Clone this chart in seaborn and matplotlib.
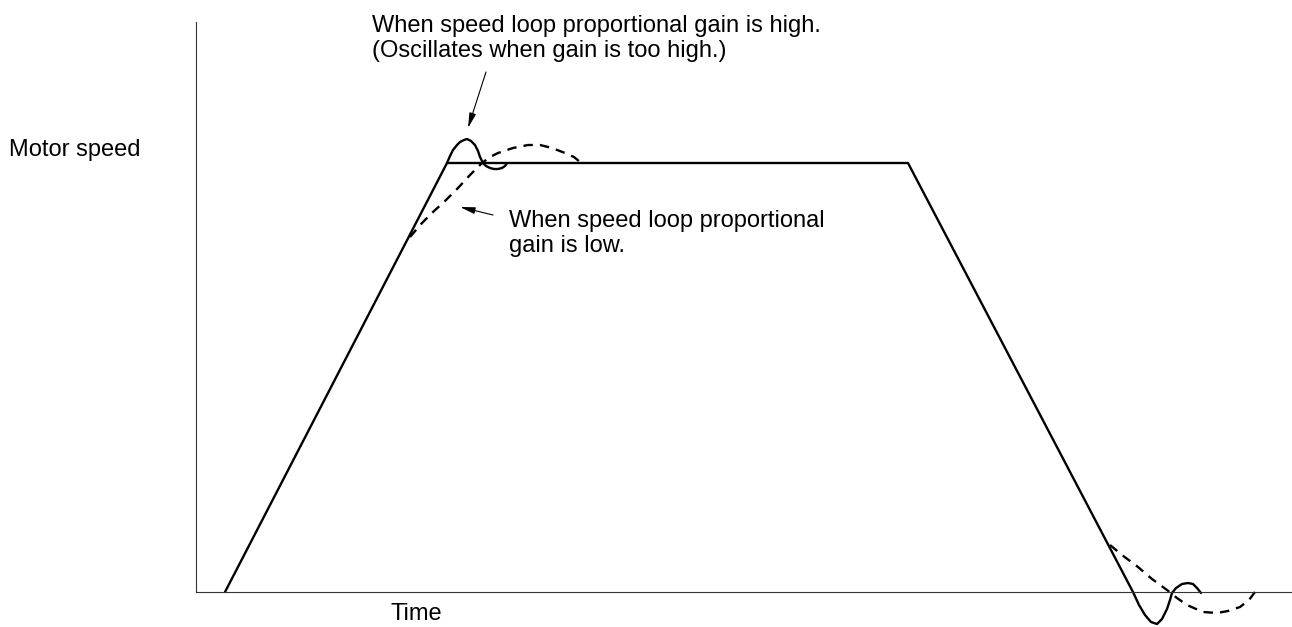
import matplotlib
matplotlib.use("Agg")
import matplotlib.pyplot as plt
import seaborn as sns

# data (time / speed in arbitrary units, origin at the axes corner)
# high gain: trapezoid run + undershoot at the end
high_t = [29, 251, 712, 937, 943, 949, 955, 961, 966, 971, 974, 976, 980, 986, 992, 997, 1001, 1005]
high_v = [0, 429, 429, 0, -13, -23, -30, -32, -27, -17, -8, -1, 4, 8, 9, 8, 4, -1]

# high gain: overshoot at the top of the ramp
over_t = [251, 254, 257, 261, 264, 268, 271, 275, 279, 282, 284, 287, 290, 294, 298, 302, 306, 309, 311]
over_v = [429, 436, 442, 447, 450, 452, 453, 451, 447, 441, 435, 429, 426, 424, 423, 423, 424, 426, 429]

# low gain: slow rise at the top
low_top_t = [214, 226, 237, 249, 262, 274, 286, 294, 302, 317, 332, 344, 356, 369, 378, 384]
low_top_v = [355, 369, 380, 391, 404, 417, 429, 435, 439, 444, 447, 447, 444, 439, 435, 430]

# low gain: slow settle at the end
low_end_t = [914, 926, 942, 956, 971, 981, 991, 1007, 1021, 1032, 1044, 1053, 1059]
low_end_v = [47, 37, 25, 13, 2, -6, -13, -20, -21, -19, -15, -8, 0]

sns.set_style("white")
plt.rcParams['font.family'] = ['Liberation Sans', 'DejaVu Sans']
plt.rcParams['text.color'] = 'black'

fig = plt.figure(figsize=(12.92, 6.27), dpi=100)
ax = fig.add_axes([196/1292, 35/627, 1096/1292, 570/627])

lw = 1.7
sns.lineplot(x=high_t, y=high_v, sort=False, estimator=None, color="black", lw=lw, ax=ax)
sns.lineplot(x=over_t, y=over_v, sort=False, estimator=None, color="black", lw=lw, ax=ax)
sns.lineplot(x=low_top_t, y=low_top_v, sort=False, estimator=None, color="black", lw=lw,
             linestyle=(0, (4.0, 3.0)), ax=ax)
sns.lineplot(x=low_end_t, y=low_end_v, sort=False, estimator=None, color="black", lw=lw,
             linestyle=(0, (4.0, 3.0)), ax=ax)
for ln in ax.lines:
    ln.set_clip_on(False)

ax.set_xlim(0, 1096)
ax.set_ylim(0, 570)
ax.set_xticks([])
ax.set_yticks([])
ax.set_xlabel("")
ax.set_ylabel("")
sns.despine(ax=ax, top=True, right=True)
for s in ["left", "bottom"]:
    ax.spines[s].set_color("#333333")
    ax.spines[s].set_linewidth(0.8)

fs = 17
ax.text(176, 560, "When speed loop proportional gain is high.", fontsize=fs, va="baseline", clip_on=False)
ax.text(176, 535, "(Oscillates when gain is too high.)", fontsize=fs, va="baseline", clip_on=False)
ax.text(313, 365, "When speed loop proportional", fontsize=fs, va="baseline")
ax.text(313, 340, "gain is low.", fontsize=fs, va="baseline")
ax.text(-187, 436, "Motor speed", fontsize=fs, va="baseline", clip_on=False)
ax.text(220, -28, "Time", fontsize=fs, va="baseline", ha="center", clip_on=False)

arrow = dict(arrowstyle="-|>,head_length=0.9,head_width=0.2", color="black", lw=0.8,
             shrinkA=0, shrinkB=0)
ax.annotate("", xy=(272, 464), xytext=(290, 520), arrowprops=arrow, annotation_clip=False)
ax.annotate("", xy=(264, 385), xytext=(297, 377), arrowprops=arrow, annotation_clip=False)

fig.savefig("out.png", dpi=100)
